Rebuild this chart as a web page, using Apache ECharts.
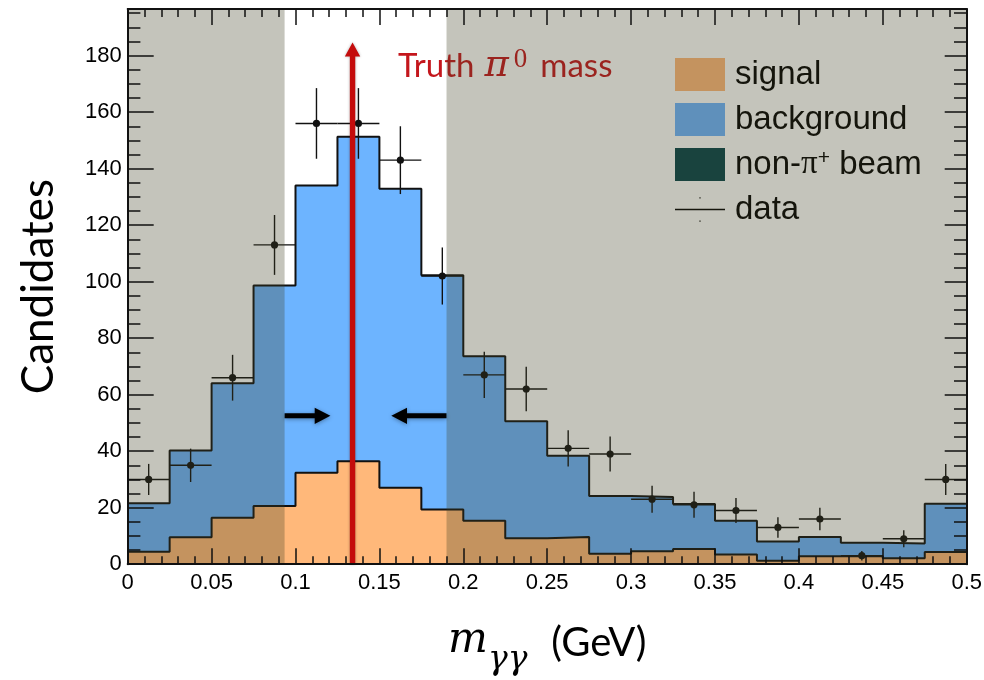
<!DOCTYPE html>
<html><head><meta charset="utf-8">
<script src="https://cdn.jsdelivr.net/npm/echarts@6/dist/echarts.min.js"></script>
<style>html,body{margin:0;padding:0;background:#fff}#c{width:984px;height:680px}</style>
</head><body><div id="c"></div>
<script>
// ---- data ----
const binEdges = [0, 0.025, 0.05, 0.075, 0.1, 0.125, 0.15, 0.175, 0.2, 0.225, 0.25,
                  0.275, 0.3, 0.325, 0.35, 0.375, 0.4, 0.425, 0.45, 0.475, 0.5];
const signal = [4.4, 9.5, 16.4, 20.6, 32.4, 36.4, 27.1, 19.4, 15.4, 9.2,
                9.6, 3.7, 4.6, 5.4, 3.4, 1.2, 2.8, 2.9, 2.1, 4.3];
const nonPiBeam = [0, 0, 0, 0, 0, 0, 0, 0, 0, 0, 0, 0, 0, 0, 0, 0, 0, 0, 0, 0];
const background = [17.2, 30.7, 47.6, 78.0, 101.6, 114.9, 105.8, 82.9, 58.2, 41.4,
                    28.8, 20.4, 19.2, 15.9, 12.0, 6.8, 6.8, 4.7, 5.2, 17.1];
const dataCounts = [30, 35, 66, 113, 156, 156, 143, 102, 67, 62,
                    41, 39, 23, 21, 19, 13, 16, 3, 9, 30];
const dataErrors = [5.5, 5.9, 8.1, 10.6, 12.5, 12.5, 12.0, 10.1, 8.2, 7.9,
                    6.4, 6.2, 4.8, 4.6, 4.4, 3.6, 4.0, 1.7, 3.0, 5.5];
const shadedRegions = [[0, 0.0935], [0.19, 0.5]];
const windowArrows = [[0.0935, 0.1208, 52.5], [0.19, 0.1571, 52.5]];
const truthMass = [[0.134, 184.6]];
const xMin = 0, xMax = 0.5, yMin = 0, yMax = 196.5;

// ---- build series data ----
const sigTop = signal.map((v, i) => v);
const beamTop = signal.map((v, i) => v + nonPiBeam[i]);
const totalTop = signal.map((v, i) => v + nonPiBeam[i] + background[i]);
function stepData(vals) {
  const d = vals.map((v, i) => [binEdges[i], v]);
  d.push([binEdges[vals.length], vals[vals.length - 1]]);
  return d;
}
const pointRows = dataCounts.map((v, i) => [binEdges[i], binEdges[i + 1], v, dataErrors[i]]);

const INK = '#111';
const chart = echarts.init(document.getElementById('c'), null, {renderer: 'canvas'});

const tickStyle = {color: INK, width: 1.5};
function xAx(pos, labels) {
  return {
    type: 'value', position: pos, min: xMin, max: xMax, interval: 0.05, z: 20,
    axisLine: {show: true, onZero: false, lineStyle: {color: INK, width: 2}},
    axisTick: {show: true, inside: true, length: 16, lineStyle: tickStyle},
    minorTick: {show: true, splitNumber: 5, length: 8, lineStyle: tickStyle},
    splitLine: {show: false}, minorSplitLine: {show: false},
    axisLabel: {show: labels, fontFamily: 'Liberation Sans', fontSize: 22, color: '#000', margin: 8},
  };
}
function yAx(pos, interval, len, labels, line) {
  return {
    type: 'value', position: pos, min: yMin, max: yMax, interval: interval, z: 20,
    axisLine: {show: line, onZero: false, lineStyle: {color: INK, width: 2}},
    axisTick: {show: true, inside: true, length: len, lineStyle: tickStyle},
    splitLine: {show: false},
    axisLabel: {show: labels, showMaxLabel: false, fontFamily: 'Liberation Sans', fontSize: 22, color: '#000', margin: 6},
  };
}
const xBottom = xAx('bottom', true);
xBottom.name = '{m|m}{g|γγ}{t|(GeV)}';
xBottom.nameLocation = 'middle';
xBottom.nameGap = 63;
xBottom.nameTextStyle = {
  rich: {
    m: {fontFamily: 'DejaVu Serif', fontStyle: 'italic', fontSize: 42, color: '#000', verticalAlign: 'bottom', lineHeight: 50, padding: [0, 0, 15, 0]},
    g: {fontFamily: 'DejaVu Serif', fontStyle: 'italic', fontSize: 33, color: '#000', verticalAlign: 'bottom', lineHeight: 36, padding: [0, 24, 0, 0]},
    t: {fontFamily: 'Lato', fontSize: 40, color: '#000', verticalAlign: 'bottom', lineHeight: 46, padding: [0, 0, 14, 0]}
  }
};
const yLeft = yAx('left', 20, 26, true, true);
yLeft.name = 'Candidates';
yLeft.nameLocation = 'middle';
yLeft.nameGap = 67;
yLeft.nameTextStyle = {fontFamily: 'Lato', fontSize: 44, color: '#000'};

const option = {
  animation: false,
  backgroundColor: '#fff',
  grid: {left: 127.7, right: 17.3, top: 9, bottom: 115.8, containLabel: false, outerBoundsMode: 'none'},
  xAxis: [xBottom, xAx('top', false)],
  yAxis: [
    yLeft,
    yAx('right', 20, 22, false, true),
    yAx('left', 5, 12.7, false, false),
    yAx('right', 5, 12.7, false, false)
  ],
  legend: {
    orient: 'vertical', left: 675, top: 58, padding: 0, itemWidth: 50, itemHeight: 33, itemGap: 12,
    selectedMode: false, z: 4, symbolKeepAspect: true,
    textStyle: {
      fontFamily: 'Liberation Sans', fontSize: 33, color: '#000', padding: [0, 0, 0, 5],
      rich: {
        t: {fontFamily: 'Liberation Sans', fontSize: 33, color: '#000'},
        p: {fontFamily: 'Liberation Serif', fontSize: 33, color: '#000'},
        s: {fontFamily: 'Liberation Sans', fontSize: 21, color: '#000', verticalAlign: 'top', lineHeight: 22}
      }
    },
    formatter: function (name) {
      if (name === 'non-π⁺ beam') return '{t|non-}{p|π}{s|+}{t| beam}';
      return name;
    },
    data: [
      {name: 'signal', icon: 'rect', itemStyle: {color: '#ffb87a', borderWidth: 0}},
      {name: 'background', icon: 'rect', itemStyle: {color: '#6db4ff', borderWidth: 0}},
      {name: 'non-π⁺ beam', icon: 'rect', itemStyle: {color: '#074349', borderWidth: 0}},
      {name: 'data', icon: 'path://M0,11.6L50,11.6L50,13L0,13Z M24.4,0L25.6,0L25.6,1.2L24.4,1.2Z M24.4,23.4L25.6,23.4L25.6,24.6L24.4,24.6Z',
       itemStyle: {color: '#000', borderWidth: 0}}
    ]
  },
  graphic: [{
    type: 'text', left: 398, top: 46, z: 4,
    style: {
      text: '{a|Truth}{p|π}{s|0}{a|mass}',
      rich: {
        a: {fontFamily: 'Lato', fontSize: 33, fill: '#c4161c', lineHeight: 40},
        p: {fontFamily: 'DejaVu Serif', fontStyle: 'italic', fontSize: 37, fill: '#c4161c', lineHeight: 40, padding: [0, 5, 0, 10]},
        s: {fontFamily: 'Liberation Serif', fontSize: 27, fill: '#c4161c', verticalAlign: 'top', lineHeight: 26, padding: [0, 13, 0, 0]}
      }
    }
  }],
  series: [
    {
      name: 'background', type: 'line', step: 'end', symbol: 'none', silent: true, z: 2,
      data: stepData(totalTop),
      itemStyle: {color: '#6db4ff'},
      lineStyle: {color: INK, width: 2},
      areaStyle: {color: '#6db4ff', opacity: 1}
    },
    {
      name: 'non-π⁺ beam', type: 'line', step: 'end', symbol: 'none', silent: true, z: 3,
      data: stepData(beamTop),
      itemStyle: {color: '#074349'},
      lineStyle: {width: 0},
      areaStyle: {color: '#074349', opacity: 1}
    },
    {
      name: 'signal', type: 'line', step: 'end', symbol: 'none', silent: true, z: 4,
      data: stepData(sigTop),
      itemStyle: {color: '#ffb87a'},
      lineStyle: {color: INK, width: 2},
      areaStyle: {color: '#ffb87a', opacity: 1}
    },
    {
      name: 'window', type: 'custom', silent: true, z: 5,
      data: windowArrows, encode: {x: [0, 1], y: 2},
      renderItem: function (params, api) {
        const p0 = api.coord([api.value(0), api.value(2)]);
        const p1 = api.coord([api.value(1), api.value(2)]);
        const dir = p1[0] > p0[0] ? 1 : -1;
        const head = 15.7, hh = 8.2, sw = 2.5;
        const bx = p1[0] - dir * head;
        const sh = {shadowBlur: 4, shadowColor: 'rgba(0,0,0,0.35)', shadowOffsetY: 1};
        return {type: 'group', children: [
          {type: 'polygon', shape: {points: [
            [p0[0], p0[1] - sw], [bx, p0[1] - sw], [bx, p0[1] - hh], [p1[0], p1[1]],
            [bx, p0[1] + hh], [bx, p0[1] + sw], [p0[0], p0[1] + sw]]},
            style: Object.assign({fill: '#000'}, sh)}
        ]};
      }
    },
    {
      name: 'data', type: 'custom', silent: true, z: 6,
      data: pointRows, encode: {x: [0, 1], y: 2},
      itemStyle: {color: '#000'},
      renderItem: function (params, api) {
        const x0 = api.value(0), x1 = api.value(1), y = api.value(2), e = api.value(3);
        const xc = (x0 + x1) / 2;
        const pL = api.coord([x0, y]), pR = api.coord([x1, y]);
        const pT = api.coord([xc, y + e]), pB = api.coord([xc, y - e]);
        const c = api.coord([xc, y]);
        const st = {stroke: INK, lineWidth: 1.4};
        return {type: 'group', children: [
          {type: 'line', shape: {x1: pL[0], y1: pL[1], x2: pR[0], y2: pR[1]}, style: st},
          {type: 'line', shape: {x1: pT[0], y1: pT[1], x2: pB[0], y2: pB[1]}, style: st},
          {type: 'circle', shape: {cx: c[0], cy: c[1], r: 3.6}, style: {fill: INK}}
        ]};
      }
    },
    {
      name: 'truth', type: 'custom', silent: true, z: 7,
      data: truthMass, encode: {x: 0, y: 1},
      renderItem: function (params, api) {
        const x = api.value(0), top = api.value(1);
        const pb = api.coord([x, 0]), pt = api.coord([x, top]);
        const head = 14, hw = 7.7, sw = 2.7;
        const sh = {shadowBlur: 3, shadowColor: 'rgba(0,0,0,0.3)'};
        return {type: 'polygon', shape: {points: [
          [pb[0] - sw, pb[1]], [pt[0] - sw, pt[1] + head], [pt[0] - hw, pt[1] + head],
          [pt[0], pt[1]], [pt[0] + hw, pt[1] + head], [pt[0] + sw, pt[1] + head], [pb[0] + sw, pb[1]]]},
          style: Object.assign({fill: '#c40c0c'}, sh)};
      }
    },
    {
      name: 'shade', type: 'custom', silent: true, z: 10,
      data: shadedRegions, encode: {x: [0, 1]},
      renderItem: function (params, api) {
        const a = api.coord([api.value(0), yMax]);
        const b = api.coord([api.value(1), yMin]);
        return {type: 'rect', shape: {x: a[0], y: a[1], width: b[0] - a[0], height: b[1] - a[1]},
                style: {fill: 'rgba(68,68,39,0.315)'}};
      }
    }
  ]
};
chart.setOption(option);
</script>
</body></html>
